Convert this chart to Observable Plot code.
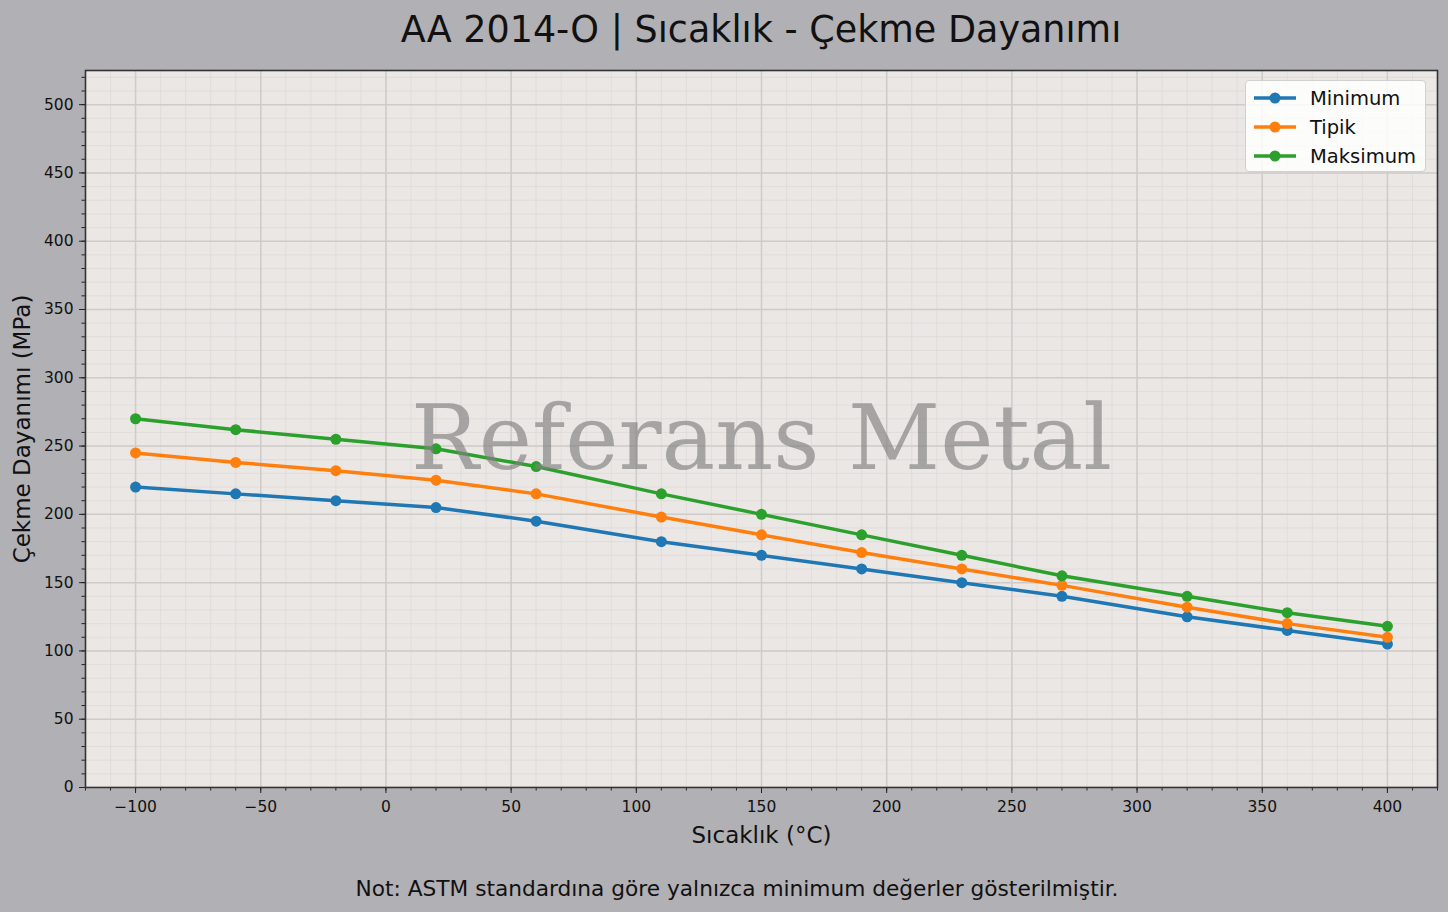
<!DOCTYPE html>
<html>
<head>
<meta charset="utf-8">
<script src="https://cdn.jsdelivr.net/npm/d3@7"></script>
<script src="https://cdn.jsdelivr.net/npm/@observablehq/plot@0.6"></script>
<style>
  html, body { margin: 0; padding: 0; background: #b1b0b5; }
  #wrap { position: relative; width: 1448px; height: 912px; overflow: hidden; font-family: "DejaVu Sans", sans-serif; }
  #title { position: absolute; left: 161px; top: 0; width: 1200px; height: 60px; line-height: 60px; text-align: center; font-size: 36.5px; color: #111; }
  #chart { position: absolute; left: 0; top: 60px; }
  #caption { position: absolute; left: 137px; top: 876px; width: 1200px; text-align: center; font-size: 21.7px; color: #111; }
  #legend { position: absolute; left: 1245px; top: 80px; width: 181px; height: 92px; background: rgba(255,255,255,0.85); border: 1px solid #d0d0d0; border-radius: 4px; box-sizing: border-box; }
  .item { position: absolute; left: 0; height: 28px; display: flex; align-items: center; font-size: 19.5px; color: #111; }
  .item svg { margin-left: 7px; margin-right: 13px; }
</style>
</head>
<body>
<div id="wrap">
  <div id="title">AA 2014-O | Sıcaklık - Çekme Dayanımı</div>
  <div id="chart"></div>
  <div id="legend"></div>
  <div id="caption">Not: ASTM standardına göre yalnızca minimum değerler gösterilmiştir.</div>
</div>
<script>
const temps    = [-100, -60, -20, 20, 60, 110, 150, 190, 230, 270, 320, 360, 400];
const minimum  = [220, 215, 210, 205, 195, 180, 170, 160, 150, 140, 125, 115, 105];
const tipik    = [245, 238, 232, 225, 215, 198, 185, 172, 160, 148, 132, 120, 110];
const maksimum = [270, 262, 255, 248, 235, 215, 200, 185, 170, 155, 140, 128, 118];
const seriesNames = ["Minimum", "Tipik", "Maksimum"];
const seriesColors = ["#1f77b4", "#ff7f0e", "#2ca02c"];
const xMajor = [-100, -50, 0, 50, 100, 150, 200, 250, 300, 350, 400];
const yMajor = [0, 50, 100, 150, 200, 250, 300, 350, 400, 450, 500];
const xLabel = "Sıcaklık (°C)";
const yLabel = "Çekme Dayanımı (MPa)";
const watermark = "Referans Metal";

const seriesValues = [minimum, tipik, maksimum];
const rows = [];
seriesNames.forEach((name, i) => temps.forEach((t, j) => rows.push({series: name, t, v: seriesValues[i][j]})));

const xMinor = d3.range(-120, 421, 10);
const yMinor = d3.range(0, 526, 10);
const fmt = d => d < 0 ? "\u2212" + Math.abs(d) : String(d);

const chart = Plot.plot({
  width: 1448,
  height: 800,
  marginTop: 10,
  marginBottom: 73,
  marginLeft: 85,
  marginRight: 11,
  style: {fontFamily: "DejaVu Sans, sans-serif", fontSize: "15.5px", color: "#111", background: "transparent", overflow: "visible"},
  x: {domain: [-120, 420], label: null},
  y: {domain: [0, 525], label: null},
  color: {domain: seriesNames, range: seriesColors},
  marks: [
    Plot.frame({fill: "#ebe7e5", stroke: null}),
    Plot.gridX(xMinor, {stroke: "#ddd8d6", strokeOpacity: 1, strokeWidth: 0.7}),
    Plot.gridY(yMinor, {stroke: "#ddd8d6", strokeOpacity: 1, strokeWidth: 0.7}),
    Plot.gridX(xMajor, {stroke: "#cfcbc9", strokeOpacity: 1, strokeWidth: 1.5}),
    Plot.gridY(yMajor, {stroke: "#cfcbc9", strokeOpacity: 1, strokeWidth: 1.5}),
    Plot.axisX(xMinor, {tickSize: 3.5, text: null, label: null, stroke: "#222"}),
    Plot.axisY(yMinor, {tickSize: 3.5, text: null, label: null, stroke: "#222"}),
    Plot.axisX(xMajor, {tickSize: 6, tickPadding: 7, tickFormat: fmt, label: null, stroke: "#222", fontSize: 15.5}),
    Plot.axisY(yMajor, {tickSize: 6, tickPadding: 6, tickFormat: fmt, label: null, stroke: "#222", fontSize: 15.5}),
    Plot.line(rows, {x: "t", y: "v", stroke: "series", z: "series", strokeWidth: 3.5}),
    Plot.dot(rows, {x: "t", y: "v", fill: "series", r: 5.5, stroke: null}),
    Plot.frame({stroke: "#333", strokeWidth: 1.6}),
    Plot.text([xLabel], {frameAnchor: "bottom", dy: 48, fontSize: 23, fill: "#111", lineAnchor: "middle", textAnchor: "middle"}),
    Plot.text([yLabel], {frameAnchor: "left", dx: -63, rotate: -90, fontSize: 23, fill: "#111", lineAnchor: "middle", textAnchor: "middle"}),
    Plot.text([watermark], {frameAnchor: "middle", dy: 11, fontSize: 90, fontFamily: "DejaVu Serif, serif", fill: "#808080", fillOpacity: 0.65, lineAnchor: "middle", textAnchor: "middle"})
  ]
});
document.getElementById("chart").appendChild(chart);

const legend = document.getElementById("legend");
seriesNames.forEach((name, i) => {
  const div = document.createElement("div");
  div.className = "item";
  div.style.top = (3 + i * 29) + "px";
  div.innerHTML = `<svg width="44" height="12"><line x1="1" x2="43" y1="6" y2="6" stroke="${seriesColors[i]}" stroke-width="3.5"/><circle cx="22" cy="6" r="5.5" fill="${seriesColors[i]}"/></svg><span>${name}</span>`;
  legend.appendChild(div);
});
</script>
</body>
</html>
